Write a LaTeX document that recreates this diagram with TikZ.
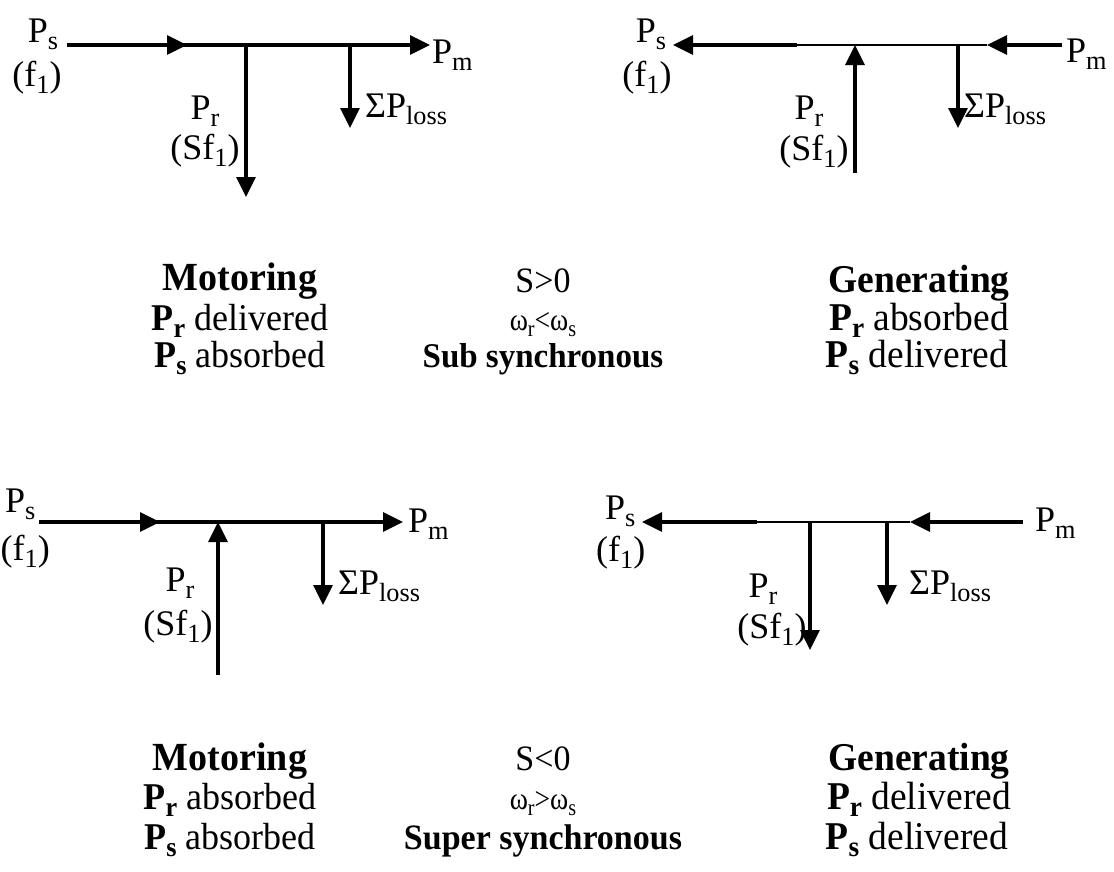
\documentclass[tikz,border=0pt]{standalone}
\usepackage{fontspec}
\usepackage{graphicx}
\setmainfont{Liberation Serif}
\usetikzlibrary{arrows.meta}
\newcommand{\sbx}[1]{\raisebox{-0.2em}{\scalebox{0.73}{#1}}}
\newcommand{\tx}[1]{\scalebox{1}[1.05]{#1}}
\begin{document}
\begin{tikzpicture}[x=1pt,y=-1pt,
  pw/.style={line width=3.2pt,-{Triangle[length=20pt,width=19pt]}},
  thinw/.style={line width=1.6pt},
  lab/.style={inner sep=0pt,anchor=base,font=\fontsize{36}{42}\selectfont},
  txt/.style={inner sep=0pt,anchor=base,font=\fontsize{36}{42}\selectfont},
  txr/.style={inner sep=0pt,anchor=base,font=\fontsize{37.5}{44}\selectfont},
  mid/.style={inner sep=0pt,anchor=base,font=\fontsize{34}{40}\selectfont},
  om/.style={inner sep=0pt,anchor=base,font=\fontsize{30}{36}\selectfont}]
\useasboundingbox (0,0) rectangle (1114,871);
% ---------- diagram 1 (top left) ----------
\coordinate (a1s) at (67,45);
\coordinate (a1m) at (187,45);
\coordinate (a1e) at (430,45);
\coordinate (a1j) at (246,45);
\coordinate (a1r) at (246,197);
\coordinate (a1k) at (350,45);
\coordinate (a1l) at (350,128);
\draw[pw] (a1s) -- (a1e);
\draw[pw] (a1s) -- (a1m);
\draw[pw] (a1j) -- (a1r);
\draw[pw] (a1k) -- (a1l);
\node[lab] (p1s) at (43,42) {P\sbx{s}};
\node[lab] (p1f) at (37,86) {(f\sbx{1})};
\node[lab,anchor=base west] (p1m) at (432,63) {P\sbx{m}};
\node[lab] (p1r) at (205,119) {P\sbx{r}};
\node[lab] (p1sf) at (205,159) {(Sf\sbx{1})};
\node[lab,anchor=base west] (p1l) at (365,117) {ΣP\sbx{loss}};
% ---------- diagram 2 (top right) ----------
\coordinate (b2t) at (673,45);
\coordinate (b2a) at (797,45);
\coordinate (b2b) at (987,45);
\coordinate (b2e) at (1062,45);
\coordinate (b2j) at (855,45);
\coordinate (b2r) at (855,173);
\coordinate (b2k) at (958,45);
\coordinate (b2l) at (958,128);
\draw[pw] (b2a) -- (b2t);
\draw[thinw] (b2a) -- (b2b);
\draw[pw] (b2e) -- (b2b);
\draw[pw] (b2r) -- (b2j);
\draw[pw] (b2k) -- (b2l);
\node[lab] (p2s) at (651,42) {P\sbx{s}};
\node[lab] (p2f) at (647,86) {(f\sbx{1})};
\node[lab,anchor=base west] (p2m) at (1066,62) {P\sbx{m}};
\node[lab] (p2r) at (809,119) {P\sbx{r}};
\node[lab] (p2sf) at (814,160) {(Sf\sbx{1})};
\node[lab,anchor=base west] (p2l) at (964,117) {ΣP\sbx{loss}};
% ---------- diagram 3 (bottom left) ----------
\coordinate (c3s) at (39,522);
\coordinate (c3m) at (160,522);
\coordinate (c3e) at (403,522);
\coordinate (c3j) at (218,522);
\coordinate (c3r) at (218,675);
\coordinate (c3k) at (323,522);
\coordinate (c3l) at (323,605);
\draw[pw] (c3s) -- (c3e);
\draw[pw] (c3s) -- (c3m);
\draw[pw] (c3r) -- (c3j);
\draw[pw] (c3k) -- (c3l);
\node[lab,anchor=base west] (p3s) at (5,512) {P\sbx{s}};
\node[lab,anchor=base east] (p3f) at (50,560) {(f\sbx{1})};
\node[lab,anchor=base west] (p3m) at (408,532) {P\sbx{m}};
\node[lab] (p3r) at (180,591) {P\sbx{r}};
\node[lab] (p3sf) at (178,635) {(Sf\sbx{1})};
\node[lab,anchor=base west] (p3l) at (338,594) {ΣP\sbx{loss}};
% ---------- diagram 4 (bottom right) ----------
\coordinate (d4t) at (642,522);
\coordinate (d4a) at (757,522);
\coordinate (d4b) at (910,522);
\coordinate (d4e) at (1023,522);
\coordinate (d4j) at (810,522);
\coordinate (d4r) at (810,650);
\coordinate (d4k) at (887,522);
\coordinate (d4l) at (887,605);
\draw[pw] (d4a) -- (d4t);
\draw[thinw] (d4a) -- (d4b);
\draw[pw] (d4e) -- (d4b);
\draw[pw] (d4j) -- (d4r);
\draw[pw] (d4k) -- (d4l);
\node[lab,anchor=base west] (p4s) at (605,519) {P\sbx{s}};
\node[lab,anchor=base west] (p4f) at (596,561) {(f\sbx{1})};
\node[lab,anchor=base west] (p4m) at (1035,531) {P\sbx{m}};
\node[lab] (p4r) at (763,597) {P\sbx{r}};
\node[lab] (p4sf) at (772,638) {(Sf\sbx{1})};
\node[lab,anchor=base west] (p4l) at (909,594) {ΣP\sbx{loss}};
% ---------- text blocks, top ----------
\node[txt] (t1a) at (240,290) {\tx{\textbf{\fontsize{38}{44}\selectfont Motoring}}};
\node[txt] (t1b) at (240,330) {\tx{\textbf{P\sbx{r}} delivered}};
\node[txt] (t1c) at (240,367) {\tx{\textbf{P\sbx{s}} absorbed}};
\node[mid] (t2a) at (543,292) {\tx{S>0}};
\node[om] (t2b) at (543,330) {\tx{\scalebox{0.92}[1]{ω\sbx{r}<ω\sbx{s}}}};
\node[mid] (t2c) at (543,367) {\tx{\textbf{\fontsize{33}{38}\selectfont Sub synchronous}}};
\node[txr] (t3a) at (919,292) {\tx{\textbf{Generating}}};
\node[txr] (t3b) at (919,330) {\tx{\textbf{P\sbx{r}} absorbed}};
\node[txr] (t3c) at (917,367) {\tx{\textbf{P\sbx{s}} delivered}};
% ---------- text blocks, bottom ----------
\node[txt] (u1a) at (230,770) {\tx{\textbf{\fontsize{38}{44}\selectfont Motoring}}};
\node[txt] (u1b) at (230,809) {\tx{\textbf{P\sbx{r}} absorbed}};
\node[txt] (u1c) at (230,849) {\tx{\textbf{P\sbx{s}} absorbed}};
\node[mid] (u2a) at (543,770) {\tx{S<0}};
\node[om] (u2b) at (543,809) {\tx{\scalebox{0.92}[1]{ω\sbx{r}>ω\sbx{s}}}};
\node[mid] (u2c) at (543,849) {\tx{\textbf{Super synchronous}}};
\node[txr] (u3a) at (919,770) {\tx{\textbf{Generating}}};
\node[txr] (u3b) at (919,809) {\tx{\textbf{P\sbx{r}} delivered}};
\node[txr] (u3c) at (917,849) {\tx{\textbf{P\sbx{s}} delivered}};
\end{tikzpicture}
\end{document}
